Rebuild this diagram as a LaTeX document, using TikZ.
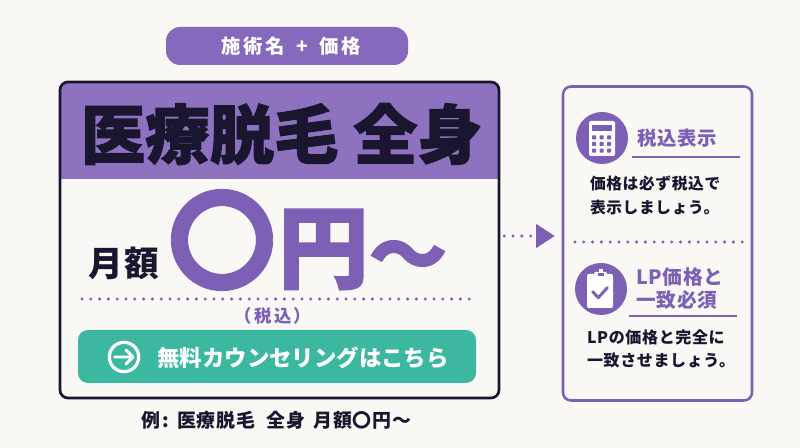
\documentclass[tikz,border=0pt]{standalone}
\usepackage{fontspec}
\usetikzlibrary{arrows.meta,calc}
\setmainfont{Noto Sans CJK JP}
\newfontfamily\jpheavy[FakeBold=1.6]{Noto Sans CJK JP}
\newfontfamily\jpmid[FakeBold=.7]{Noto Sans CJK JP}
\newfontfamily\jpA[LetterSpace=14]{Noto Sans CJK JP}
\newfontfamily\jpB[LetterSpace=4]{Noto Sans CJK JP}
\newfontfamily\jpC[LetterSpace=14]{Noto Sans CJK JP}
\newcommand{\fs}[1]{\fontsize{#1}{#1}\selectfont}
\definecolor{bgc}{HTML}{F9F8F4}
\definecolor{headc}{HTML}{8E72C0}
\definecolor{pillc}{HTML}{8669BC}
\definecolor{vio}{HTML}{7D60B6}
\definecolor{ink}{HTML}{1B1630}
\definecolor{teal}{HTML}{3DB8A0}
\tikzset{
  txt/.style={inner sep=0pt,outer sep=0pt,anchor=center,align=left},
  wtxt/.style={txt,text=white,font=\bfseries},
  vtxt/.style={txt,text=vio,font=\bfseries},
  ktxt/.style={txt,text=ink,font=\bfseries},
  dots/.style={vio,line width=2.5pt,line cap=round,dash pattern=on 0pt off 6.6pt},
  rule/.style={vio,line width=1.5pt},
  disc/.style={circle,fill=vio,inner sep=0pt,minimum size=39pt},
}
\begin{document}
\begin{tikzpicture}[x=.75pt,y=-.75pt]
\useasboundingbox[fill=bgc] (0,0) rectangle (800,448);
% pill
\node[fill=pillc,rounded corners=10.5pt,minimum width=181.5pt,minimum height=28.5pt,inner sep=0pt] (pill) at (287,46) {};
\node[wtxt] (pillt) at (291,46) {\fs{14.5}\jpA\bfseries 施術名\hspace{.6em}+\hspace{.6em}価格};
% main box
\node[fill=bgc,rounded corners=6pt,minimum width=329.25pt,minimum height=237pt,inner sep=0pt] (mainbox) at (279.5,240) {};
\begin{scope}
\clip[rounded corners=6pt] (60,82) rectangle (499,398);
\fill[headc] (60,82) rectangle (499,179);
\end{scope}
\draw[ink,line width=2pt,rounded corners=6pt] (60,82) rectangle (499,398);
\node[txt,text=ink] (title) at (281.5,134) {\fs{48.3}\jpheavy\bfseries 医療脱毛 全身};
\node[ktxt] (gaku) at (123.5,263) {\fs{26}\jpB\bfseries 月額};
\node[vtxt] (maru) at (222,240) {\fs{82}\jpmid\bfseries 〇};
\node[vtxt] (en) at (323.5,249.5) {\fs{68}\jpheavy\bfseries 円};
\node[vtxt] (nami) at (408,262) {\fs{59}\jpheavy\bfseries 〜};
\draw[dots] (82,299) -- (470,299);
\node[vtxt] (zei) at (273,316) {\fs{13}\jpC\bfseries （税込）};
\node[fill=teal,rounded corners=7.5pt,minimum width=298.5pt,minimum height=39.75pt,inner sep=0pt] (btn) at (277,356.5) {};
\node[circle,draw=white,line width=2.4pt,minimum size=22pt,inner sep=0pt] (arrowc) at (124,357) {};
\draw[white,line width=2.2pt,line cap=round,line join=round] (114.5,357) -- (133,357) (126,350) -- (133,357) -- (126,364);
\node[wtxt] (btnt) at (303,358) {\fs{16.8}\bfseries 無料カウンセリングはこちら};
\node[ktxt] (cap) at (276.5,420) {\fs{14.2}\jpB\bfseries 例\hspace{.12em}:\hspace{.4em}医療脱毛\hspace{.6em}全身\hspace{.45em}月額〇円〜};
% panel
\node[rounded corners=6pt,draw=vio,line width=1.9pt,minimum width=141.75pt,minimum height=235.5pt,inner sep=0pt] (panel) at (657.5,243.5) {};
% connector
\coordinate (cs) at ($(mainbox.east)+(5,-4)$);
\coordinate (ce) at ($(panel.west)+(-7,-7.5)$);
\draw[dots,-{Triangle[length=14pt,width=17.5pt,fill=vio]}] (cs) -- (ce);
% calculator
\node[disc] (ic1) at (602,138) {};
\fill[white,rounded corners=1.5pt] (589,121) rectangle (615,156);
\fill[vio] (592,125) rectangle (612,131);
\foreach \yy in {137.3,144,150.7}\foreach \xx in {594,601.7,609}{\fill[vio,rounded corners=.4pt] (\xx-2,\yy-2) rectangle (\xx+2,\yy+2);}
\node[vtxt] (h1) at (677.5,138) {\fs{14.5}\jpB\bfseries 税込表示};
\draw[rule] (632,157) -- (740,157);
\node[ktxt,anchor=west] (b1a) at (590,184) {\fs{11.8}\jpB\bfseries 価格は必ず税込で};
\node[ktxt,anchor=west] (b1b) at (590,208) {\fs{11.8}\jpB\bfseries 表示しましょう。};
\draw[dots] (575,242) -- (745,242);
% clipboard
\node[disc] (ic2) at (601,289) {};
\fill[white,rounded corners=1.5pt] (587,274) rectangle (613,308);
\fill[white,rounded corners=1pt] (594,272) rectangle (607,280);
\fill[vio] (597.5,273.5) rectangle (603.5,276);
\fill[white] (598.5,269.5) rectangle (602.5,273);
\draw[vio,line width=2.2pt,line cap=round,line join=round] (592.7,291.7) -- (598.3,297.7) -- (607.3,287.7);
\node[vtxt,anchor=west] (h2a) at (636,277) {\fs{14.8}\jpB\bfseries LP価格と};
\node[vtxt,anchor=west] (h2b) at (636,300) {\fs{14.8}\jpB\bfseries 一致必須};
\draw[rule] (629,316) -- (737,316);
\node[ktxt,anchor=west] (b2a) at (587,337) {\fs{12}\jpB\bfseries LPの価格と完全に};
\node[ktxt,anchor=west] (b2b) at (587,360) {\fs{12}\jpB\bfseries 一致させましょう。};
\end{tikzpicture}
\end{document}
